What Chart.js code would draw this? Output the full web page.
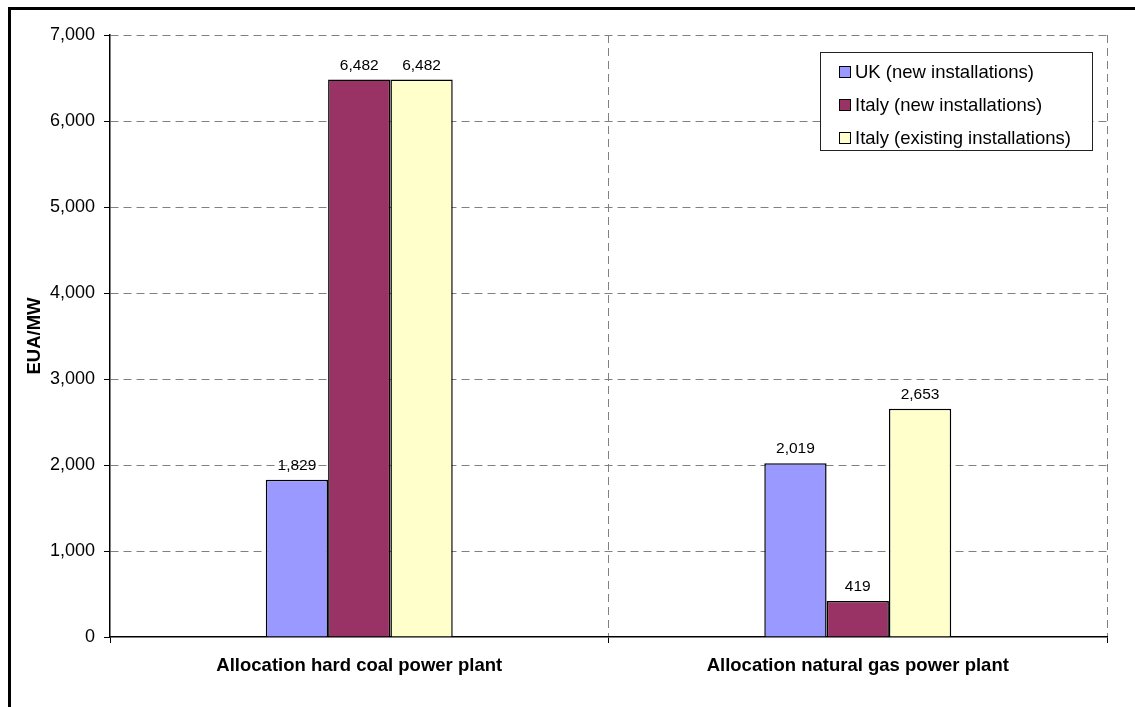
<!DOCTYPE html>
<html>
<head>
<meta charset="utf-8">
<title>EUA/MW allocation</title>
<script src="https://cdn.jsdelivr.net/npm/chart.js@4"></script>
<style>
  html, body { margin:0; padding:0; background:#fff; }
  #wrap { width:1135px; height:707px; }
</style>
</head>
<body>
<div id="wrap"><canvas id="chart" width="1135" height="707"></canvas></div>
<script>
const categories = ['Allocation hard coal power plant', 'Allocation natural gas power plant'];
const seriesNames = ['UK (new installations)', 'Italy (new installations)', 'Italy (existing installations)'];
const ukNew = [1829, 2019];
const italyNew = [6482, 419];
const italyExisting = [6482, 2653];
const seriesColors = ['#9999FF', '#993366', '#FFFFCC'];
const yMin = 0, yMax = 7000, yStep = 1000;
const yTitle = 'EUA/MW';

const FONT = "'Liberation Sans', Arial, sans-serif";
const GRID = '#808080';

const fmt = v => Number(v).toLocaleString('en-US');

// outer frame (only top and left edge are visible in the picture)
const framePlugin = {
  id: 'frame',
  beforeDraw(chart){
    const c = chart.ctx;
    c.save();
    c.fillStyle = '#fff';
    c.fillRect(0, 0, chart.width, chart.height);
    c.strokeStyle = '#000';
    c.lineWidth = 3;
    c.beginPath();
    c.moveTo(9.5, chart.height + 5);
    c.lineTo(9.5, 8.5);
    c.lineTo(chart.width + 5, 8.5);
    c.stroke();
    c.restore();
  }
};

const valueLabels = {
  id: 'valueLabels',
  afterDatasetsDraw(chart){
    const c = chart.ctx;
    c.save();
    c.font = '15.5px ' + FONT;
    c.fillStyle = '#000';
    c.textAlign = 'center';
    c.textBaseline = 'alphabetic';
    chart.data.datasets.forEach((ds, i) => {
      chart.getDatasetMeta(i).data.forEach((bar, j) => {
        c.fillText(fmt(ds.data[j]), bar.x, bar.y - 10);
      });
    });
    c.restore();
  }
};

// legend box sits inside the plot area, top right
const boxLegend = {
  id: 'boxLegend',
  afterDraw(chart){
    const c = chart.ctx;
    const x = 820.5, y = 52.5, w = 272, h = 98;
    c.save();
    c.fillStyle = '#fff';
    c.fillRect(x, y, w, h);
    c.strokeStyle = '#222';
    c.lineWidth = 1;
    c.strokeRect(x, y, w, h);
    c.font = '18.5px ' + FONT;
    c.textAlign = 'left';
    c.textBaseline = 'middle';
    chart.data.datasets.forEach((ds, i) => {
      const cy = 72 + i * 33;
      c.fillStyle = ds.backgroundColor;
      c.fillRect(839.5, cy - 5.5, 11, 11);
      c.strokeStyle = '#000';
      c.strokeRect(839.5, cy - 5.5, 11, 11);
      c.fillStyle = '#000';
      c.fillText(ds.label, 855, cy + 1);
    });
    c.restore();
  }
};

const seriesData = [ukNew, italyNew, italyExisting];

new Chart(document.getElementById('chart'), {
  type: 'bar',
  data: {
    labels: categories,
    datasets: seriesNames.map((name, i) => ({
      label: name,
      data: seriesData[i],
      backgroundColor: seriesColors[i],
      borderColor: '#000',
      borderWidth: 1.5,
      categoryPercentage: 0.375,
      barPercentage: 1
    }))
  },
  options: {
    responsive: false,
    animation: false,
    devicePixelRatio: 1,
    layout: { padding: { top: 35, right: 28, left: 0, bottom: 0 } },
    plugins: {
      legend: { display: false },
      tooltip: { enabled: false }
    },
    scales: {
      x: {
        offset: true,
        afterFit(scale){ scale.height = 70; },
        grid: {
          offset: true,
          color: ctx => ctx.index === 0 ? 'rgba(0,0,0,0)' : GRID,
          tickColor: '#000',
          tickLength: 6,
          lineWidth: 1
        },
        border: { color: '#000', width: 1.5, dash: [8, 5] },
        ticks: {
          color: '#000',
          font: { family: FONT, size: 18.5, weight: 'bold' },
          padding: 12,
          maxRotation: 0,
          autoSkip: false
        }
      },
      y: {
        min: yMin,
        max: yMax,
        afterFit(scale){ scale.width = 110; },
        grid: {
          color: ctx => ctx.tick && ctx.tick.value === 0 ? 'rgba(0,0,0,0)' : GRID,
          tickColor: '#000',
          tickLength: 6,
          lineWidth: 1
        },
        border: { color: '#000', width: 1.5, dash: [8, 5] },
        ticks: {
          stepSize: yStep,
          color: '#000',
          font: { family: FONT, size: 18 },
          padding: 9,
          callback: v => fmt(v)
        },
        title: {
          display: true,
          text: yTitle,
          color: '#000',
          font: { family: FONT, size: 18.5, weight: 'bold' },
          padding: { top: 24, bottom: 0 }
        }
      }
    }
  },
  plugins: [framePlugin, valueLabels, boxLegend]
});
</script>
</body>
</html>
